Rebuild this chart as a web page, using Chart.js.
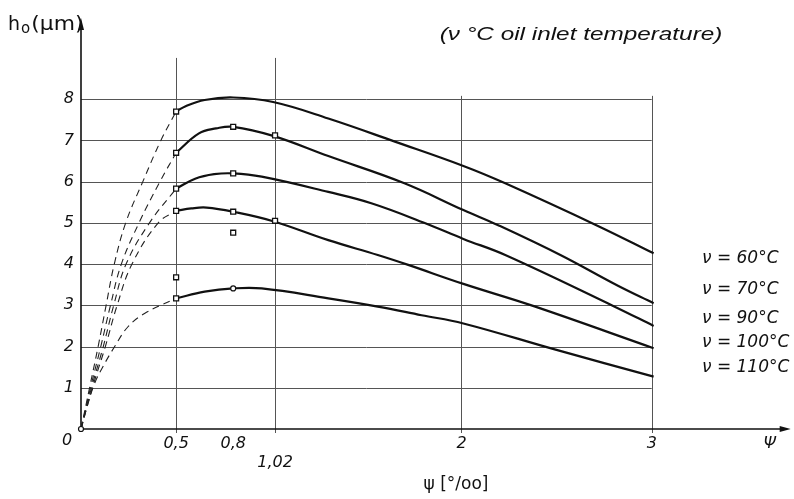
<!DOCTYPE html>
<html>
<head>
<meta charset="utf-8">
<script src="https://cdn.jsdelivr.net/npm/chart.js@4.4.1/dist/chart.umd.min.js"></script>
<style>
  html, body { margin: 0; padding: 0; background: #fff; }
  #wrap { width: 794px; height: 499px; }
</style>
</head>
<body>
<div id="wrap"><canvas id="filmChart" width="794" height="499"></canvas></div>
<script>
// oil inlet temperatures (one curve each)
const temps = ['ν = 60°C', 'ν = 70°C', 'ν = 90°C', 'ν = 100°C', 'ν = 110°C'];

// solid parts, psi [‰] -> h0 [µm]
const psi60 = [0.5, 0.55, 0.65, 0.8, 1.01, 1.3, 1.65, 2.01, 2.23, 2.72, 3.01];
const h60   = [7.7, 7.83, 7.98, 8.04, 7.93, 7.53, 6.97, 6.38, 5.96, 4.92, 4.26];
const psi70 = [0.5, 0.62, 0.71, 0.8, 1.01, 1.3, 1.7, 2.01, 2.19, 2.52, 2.82, 3.01];
const h70   = [6.7, 7.17, 7.29, 7.33, 7.11, 6.62, 5.96, 5.31, 4.95, 4.22, 3.48, 3.05];
const psi90 = [0.5, 0.6, 0.7, 0.8, 0.95, 1.3, 1.53, 1.81, 2.01, 2.23, 2.8, 3.01];
const h90   = [5.83, 6.07, 6.18, 6.2, 6.12, 5.75, 5.47, 4.99, 4.61, 4.22, 2.98, 2.5];
const psi100 = [0.5, 0.58, 0.66, 0.8, 1.01, 1.3, 1.56, 1.72, 2.01, 2.38, 3.01];
const h100   = [5.29, 5.35, 5.37, 5.27, 5.04, 4.58, 4.22, 3.98, 3.52, 2.98, 1.96];
const psi110 = [0.5, 0.65, 0.8, 0.95, 1.3, 1.56, 1.79, 2.01, 2.49, 3.01];
const h110   = [3.17, 3.33, 3.41, 3.41, 3.17, 2.97, 2.76, 2.56, 1.93, 1.27];

// dashed parts from the origin
const psi60d = [0, 0.045, 0.09, 0.132, 0.175, 0.235, 0.325, 0.42, 0.5];
const h60d   = [0, 1, 2, 3, 4, 5, 6, 7, 7.7];
const psi70d = [0, 0.05, 0.104, 0.155, 0.212, 0.305, 0.415, 0.5];
const h70d   = [0, 1, 2, 3, 4, 5, 6, 6.7];
const psi90d = [0, 0.055, 0.117, 0.172, 0.237, 0.36, 0.5];
const h90d   = [0, 1, 2, 3, 4, 5, 5.83];
const psi100d = [0, 0.06, 0.128, 0.19, 0.268, 0.406, 0.5];
const h100d   = [0, 1, 2, 3, 4, 5, 5.29];
const psi110d = [0, 0.037, 0.072, 0.115, 0.177, 0.247, 0.334, 0.5];
const h110d   = [0, 0.62, 1.11, 1.51, 2.0, 2.48, 2.8, 3.17];

// measured points
const markPsi = [0.5, 0.5, 0.8, 1.02, 0.5, 0.8, 0.5, 0.8, 1.02, 0.5, 0.5, 0.8];
const markH   = [7.7, 6.7, 7.33, 7.12, 5.83, 6.2, 5.29, 5.27, 5.05, 3.17, 3.68, 4.76];
const dotPsi  = [0, 0.8];
const dotH    = [0, 3.41];

// axes
const xTickVals = [0.5, 0.8, 1.02, 2, 3, 3.62];
const xTickText = ['0,5', '0,8', ['', '1,02'], '2', '3', 'Ψ'];
const yTickVals = [1, 2, 3, 4, 5, 6, 7, 8];

const pts = (xs, ys) => xs.map((x, i) => ({ x: x, y: ys[i] }));

const tickFont = { family: 'DejaVu Sans', style: 'italic', size: 16 };

function solid(xs, ys) {
    return { data: pts(xs, ys), showLine: true, borderColor: '#111', borderWidth: 2.2,
             pointRadius: 0, tension: 0.4 };
}
function dashed(xs, ys) {
    return { data: pts(xs, ys), showLine: true, borderColor: '#222', borderWidth: 1.1,
             borderDash: [7, 5], pointRadius: 0, tension: 0.4 };
}

function txt(ctx, str, x, y, font, sx, align) {
    ctx.save();
    ctx.translate(x, y);
    ctx.scale(sx, 1);
    ctx.font = font;
    ctx.fillStyle = '#111';
    ctx.textAlign = align || 'left';
    ctx.textBaseline = 'middle';
    ctx.fillText(str, 0, 0);
    ctx.restore();
}

const paper = {
    id: 'paper',
    beforeDraw(chart) {
        const ctx = chart.ctx;
        ctx.save();
        ctx.fillStyle = '#fff';
        ctx.fillRect(0, 0, chart.width, chart.height);
        ctx.restore();
    },
    beforeDatasetsDraw(chart) {
        const { ctx, scales: { x, y } } = chart;
        const r = v => Math.round(v) + 0.5;
        ctx.save();
        ctx.strokeStyle = '#555';
        ctx.lineWidth = 1;
        // horizontal grid, only up to psi = 3
        yTickVals.forEach(v => {
            ctx.beginPath();
            ctx.moveTo(x.getPixelForValue(0), r(y.getPixelForValue(v)));
            ctx.lineTo(x.getPixelForValue(3), r(y.getPixelForValue(v)));
            ctx.stroke();
        });
        // vertical grid
        [[0.5, 9], [1.02, 9], [2, 8.08], [3, 8.08]].forEach(([v, top]) => {
            ctx.beginPath();
            ctx.moveTo(r(x.getPixelForValue(v)), y.getPixelForValue(0) + 4);
            ctx.lineTo(r(x.getPixelForValue(v)), y.getPixelForValue(top));
            ctx.stroke();
        });
        // axes with arrows
        const x0 = x.getPixelForValue(0), y0 = y.getPixelForValue(0);
        const area = chart.chartArea;
        ctx.strokeStyle = '#111';
        ctx.fillStyle = '#111';
        ctx.lineWidth = 1.6;
        ctx.beginPath();
        ctx.moveTo(x0, y0);
        ctx.lineTo(x0, area.top + 4);
        ctx.moveTo(x0, y0);
        ctx.lineTo(area.right - 4, y0);
        ctx.stroke();
        ctx.beginPath();
        ctx.moveTo(x0, area.top - 2);
        ctx.lineTo(x0 - 3, area.top + 10);
        ctx.lineTo(x0 + 3, area.top + 10);
        ctx.fill();
        ctx.beginPath();
        ctx.moveTo(area.right + 2, y0);
        ctx.lineTo(area.right - 9, y0 - 3);
        ctx.lineTo(area.right - 9, y0 + 3);
        ctx.fill();
        ctx.restore();
    },
    afterDraw(chart) {
        const ctx = chart.ctx;
        ctx.save();
        // title
        txt(ctx, '(ν °C oil inlet temperature)', 581, 35, 'italic 19px "Liberation Sans"', 1.28, 'center');
        // temperature labels
        const ly = [259, 290, 319, 343, 368];
        temps.forEach((t, i) => txt(ctx, t, 702, ly[i], 'italic 17px "DejaVu Sans"', 1, 'left'));
        // origin
        txt(ctx, '0', 67, 441, 'italic 16px "DejaVu Sans"', 1, 'center');
        // y title h0(µm)
        ctx.fillStyle = '#111';
        ctx.textBaseline = 'alphabetic';
        ctx.font = '19px "DejaVu Sans"';
        let px = 8;
        ctx.fillText('h', px, 30);
        px += ctx.measureText('h').width + 1;
        ctx.font = '15px "DejaVu Sans"';
        ctx.fillText('o', px, 33);
        px += ctx.measureText('o').width + 1;
        ctx.font = '19px "DejaVu Sans"';
        ctx.save();
        ctx.translate(px, 30);
        ctx.scale(1.15, 1);
        ctx.fillText('(μm)', 0, 0);
        ctx.restore();
        // x title
        txt(ctx, 'ψ [°/oo]', 456, 485, '17px "DejaVu Sans"', 1, 'center');
        ctx.restore();
    }
};

const datasets = [
    { data: pts(markPsi, markH), pointStyle: 'rect', pointRadius: 3.5, pointBackgroundColor: '#fff',
      pointBorderColor: '#111', pointBorderWidth: 1.3, showLine: false, clip: false },
    { data: pts(dotPsi, dotH), pointStyle: 'circle', pointRadius: 2.5, pointBackgroundColor: '#fff',
      pointBorderColor: '#111', pointBorderWidth: 1.2, showLine: false, clip: false },
    solid(psi60, h60), solid(psi70, h70), solid(psi90, h90), solid(psi100, h100), solid(psi110, h110),
    dashed(psi60d, h60d), dashed(psi70d, h70d), dashed(psi90d, h90d), dashed(psi100d, h100d), dashed(psi110d, h110d)
];
// names of the temperature curves
datasets.slice(2, 7).forEach((d, i) => { d.label = temps[i]; });

new Chart(document.getElementById('filmChart'), {
    type: 'scatter',
    data: { datasets: datasets },
    options: {
        responsive: false,
        animation: false,
        devicePixelRatio: 1,
        layout: { padding: { top: 20, right: 4, left: 0, bottom: 0 } },
        plugins: { legend: { display: false }, tooltip: { enabled: false } },
        scales: {
            x: {
                type: 'linear', min: 0, max: 3.72,
                afterBuildTicks: s => { s.ticks = xTickVals.map(v => ({ value: v })); },
                afterFit: s => { s.height = 70; },
                grid: { display: false, drawTicks: false },
                border: { display: false },
                ticks: { autoSkip: false, maxRotation: 0, padding: 5, color: '#111', font: tickFont,
                         callback: (v, i) => xTickText[i] }
            },
            y: {
                type: 'linear', min: 0, max: 9.92,
                afterBuildTicks: s => { s.ticks = yTickVals.map(v => ({ value: v })); },
                afterFit: s => { s.width = 81; },
                grid: { display: false, drawTicks: false },
                border: { display: false },
                ticks: { padding: 7, color: '#111', font: tickFont, callback: v => String(v) }
            }
        }
    },
    plugins: [paper]
});
</script>
</body>
</html>
